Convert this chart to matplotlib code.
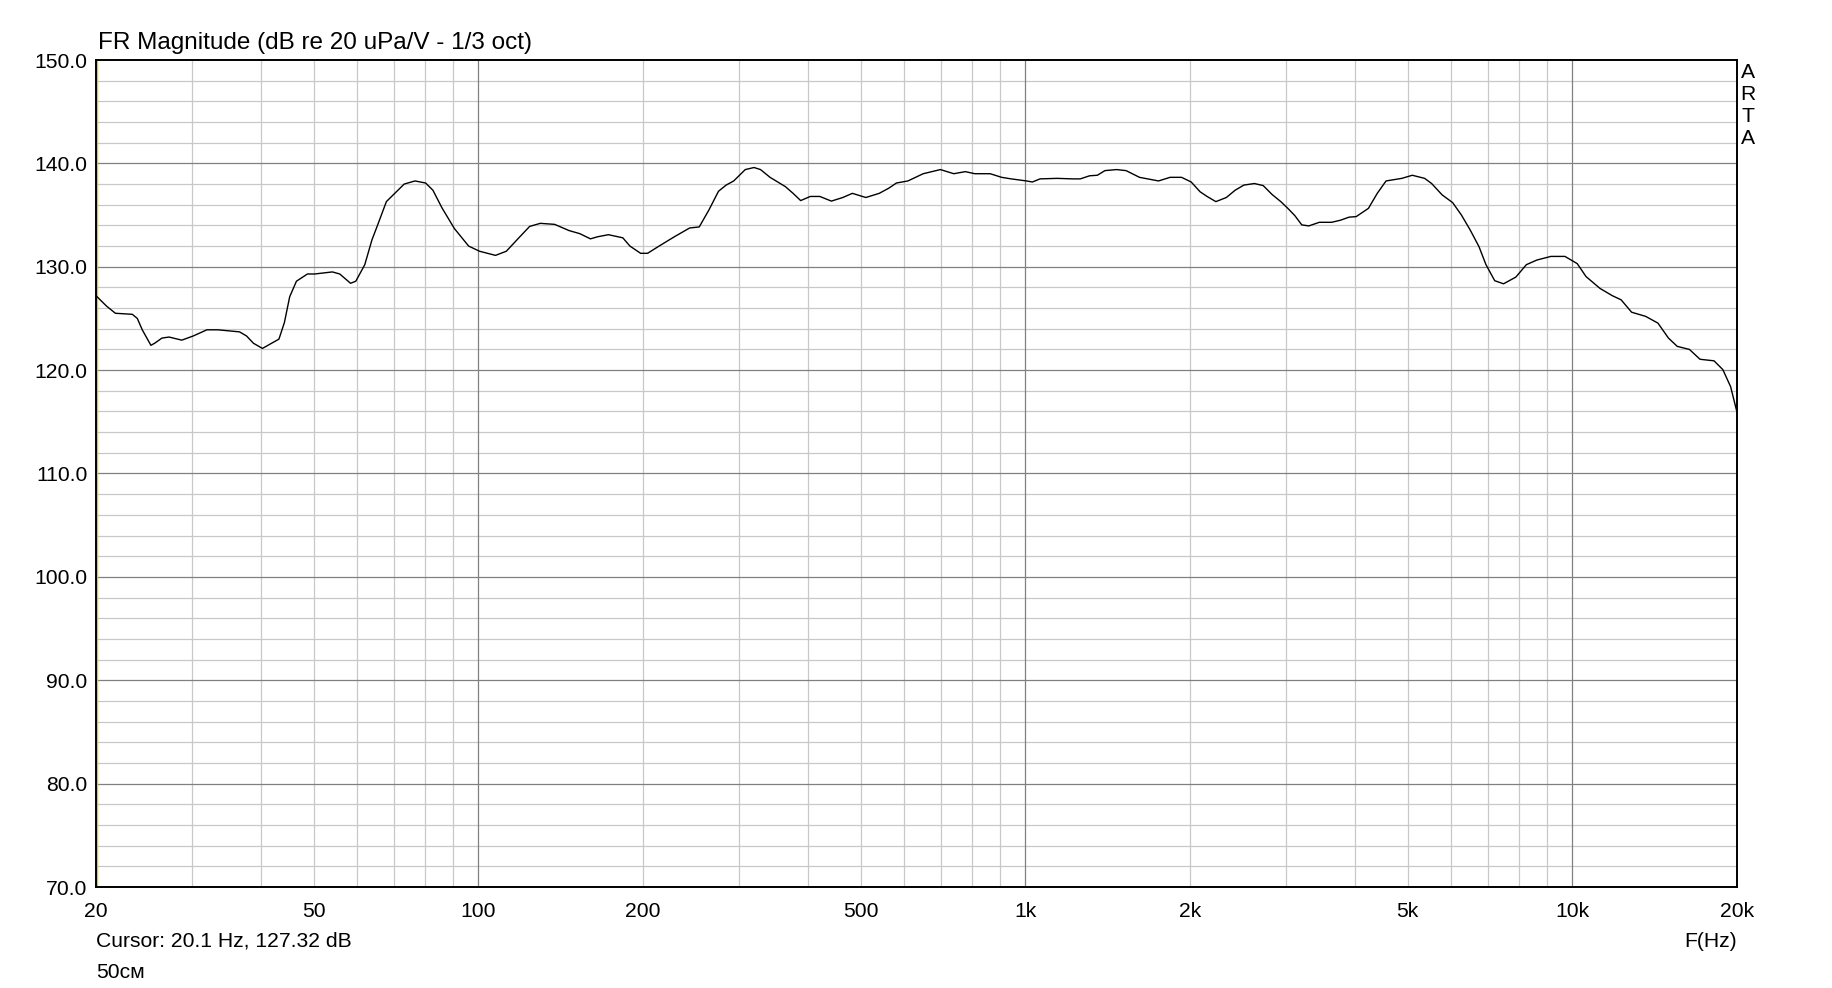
import matplotlib
matplotlib.use("Agg")
import matplotlib.pyplot as plt

freq_hz = [20.0, 20.9, 21.7, 23.3, 23.8, 24.3, 25.2, 25.6, 26.4, 27.2, 28.7, 30.1,
           31.9, 33.4, 36.6, 37.7, 38.8, 40.3, 41.9, 43.2, 44.2, 45.2, 46.5, 48.7,
           50.2, 54.1, 55.8, 58.4, 59.7, 62.0, 63.9, 65.3, 67.9, 73.2, 76.6, 80.1,
           82.6, 85.8, 90.4, 96.0, 100.5, 107.5, 112.5, 118.6, 124.1, 129.8, 137.9,
           146.5, 153.3, 160.3, 165.2, 172.9, 183.7, 189.3, 198.0,
           203.9, 214, 228.2, 243.4, 253.4, 264, 274.8, 283.8, 293, 307.6, 319.2,
           328, 341.4, 364.2, 376.2, 388.4, 404.4, 421, 442, 463.8, 482.8, 511,
           540.6, 562.8, 581.2, 610, 650.6, 699.4, 740, 776.6, 808.6, 862.4, 905,
           942.2, 1005, 1030, 1064, 1143, 1220, 1260, 1311, 1354, 1398, 1468, 1528,
           1617, 1752, 1839, 1930, 2010,
           2087, 2149, 2230, 2331, 2418, 2509, 2623, 2722, 2824, 2931, 3019, 3109,
           3202, 3298, 3447, 3631, 3767, 3908, 4026, 4239, 4399, 4565, 4878, 5098,
           5370, 5531, 5781, 6043, 6270, 6506, 6750, 6952, 7213, 7485, 7884, 8240,
           8614, 9138, 9694, 10209, 10593, 11238, 11834, 12280, 12836, 13616, 14337,
           14987, 15550, 16373, 17116, 18156, 18842, 19470, 19994]
level_db = [127.2, 126.2, 125.5, 125.4, 125.0, 123.9, 122.4, 122.6, 123.1, 123.2, 122.9, 123.3,
            123.9, 123.9, 123.7, 123.3, 122.6, 122.1, 122.6, 123.0, 124.6, 127.1, 128.6, 129.3,
            129.3, 129.5, 129.3, 128.4, 128.6, 130.2, 132.6, 133.9, 136.3, 138.0, 138.3, 138.1,
            137.4, 135.7, 133.7, 132.0, 131.5, 131.1, 131.5, 132.8, 133.9, 134.2, 134.1,
            133.5, 133.2, 132.7, 132.9, 133.1, 132.8, 132.0, 131.3,
            131.3, 132.0, 132.9, 133.75, 133.85, 135.5, 137.3, 137.9, 138.3, 139.4, 139.6,
            139.4, 138.65, 137.75, 137.1, 136.4, 136.8, 136.8, 136.35, 136.7, 137.1, 136.7,
            137.1, 137.6, 138.1, 138.3, 139.0, 139.4, 139.0, 139.2, 139.0, 139.0, 138.65,
            138.5, 138.3, 138.2, 138.5, 138.55, 138.5, 138.5, 138.8, 138.85, 139.3, 139.4, 139.3,
            138.65, 138.3, 138.65, 138.65, 138.2,
            137.25, 136.8, 136.3, 136.7, 137.4, 137.9, 138.05, 137.85, 137.0, 136.3, 135.65, 134.95,
            134.05, 133.95, 134.3, 134.3, 134.5, 134.8, 134.85, 135.65, 137.1, 138.3, 138.55, 138.85,
            138.55, 138.05, 136.95, 136.2, 135.0, 133.55, 131.95, 130.2, 128.65, 128.35, 129.0, 130.2,
            130.65, 131.0, 131.0, 130.3, 129.05, 127.9, 127.2, 126.8, 125.6, 125.2, 124.55,
            123.1, 122.3, 122.0, 121.05, 120.9, 120.05, 118.4, 115.95]

x_ticks = [20, 50, 100, 200, 500, 1000, 2000, 5000, 10000, 20000]
x_labels = ['20', '50', '100', '200', '500', '1k', '2k', '5k', '10k', '20k']
y_ticks = [70, 80, 90, 100, 110, 120, 130, 140, 150]
y_labels = ['70.0', '80.0', '90.0', '100.0', '110.0', '120.0', '130.0', '140.0', '150.0']

plt.rcParams['font.family'] = ['Liberation Sans', 'DejaVu Sans']
W, H = 1833, 988
fs = 15.2

fig = plt.figure(figsize=(W / 100, H / 100), dpi=100)
ax = fig.add_axes([96 / W, 1 - 887 / H, (1737 - 96) / W, (887 - 60) / H])
ax.set_xscale('log')
ax.set_xlim(20, 20000)
ax.set_ylim(70, 150)

light = '#c8c8c8'
dark = '#808080'
# vertical grid: 1-2-..-9 per decade, decades darker
for dec in (10, 100, 1000):
    for k in range(2, 10):
        f = k * dec
        if f > 20 and f < 10000:
            ax.axvline(f, color=light, lw=0.9, zorder=1)
for f in (100, 1000, 10000):
    ax.axvline(f, color=dark, lw=0.9, zorder=1.5)
# horizontal grid: every 2 dB, every 10 dB darker
for v in range(72, 150, 2):
    ax.axhline(v, color=dark if v % 10 == 0 else light, lw=0.9,
               zorder=1.5 if v % 10 == 0 else 1)

# cursor
ax.axvline(20.1, color='#e0d000', lw=1.0, zorder=2)

ax.plot(freq_hz, level_db, color='black', lw=1.0, zorder=3)

ax.xaxis.set_major_locator(matplotlib.ticker.FixedLocator(x_ticks))
ax.xaxis.set_minor_locator(matplotlib.ticker.NullLocator())
ax.set_xticklabels(x_labels)
ax.set_yticks(y_ticks)
ax.set_yticklabels(y_labels)
ax.tick_params(axis='both', length=0, labelsize=fs, colors='black')
ax.tick_params(axis='x', pad=11)
ax.tick_params(axis='y', pad=6)
for s in ax.spines.values():
    s.set_linewidth(1.4)
    s.set_color('black')
    s.set_zorder(4)

fig.text(98 / W, 1 - 43 / H, 'FR Magnitude (dB re 20 uPa/V - 1/3 oct)', fontsize=17.5,
         ha='left', va='center')
fig.text(96 / W, 1 - 941 / H, 'Cursor: 20.1 Hz, 127.32 dB', fontsize=fs, ha='left', va='center')
fig.text(96 / W, 1 - 972 / H, '50см', fontsize=fs, ha='left', va='center')
fig.text(1737 / W, 1 - 941 / H, 'F(Hz)', fontsize=fs, ha='right', va='center')
for i, ch in enumerate('ARTA'):
    fig.text(1748 / W, 1 - (72.5 + 22 * i) / H, ch, fontsize=fs, ha='center', va='center')

fig.savefig('out.png', dpi=100)
